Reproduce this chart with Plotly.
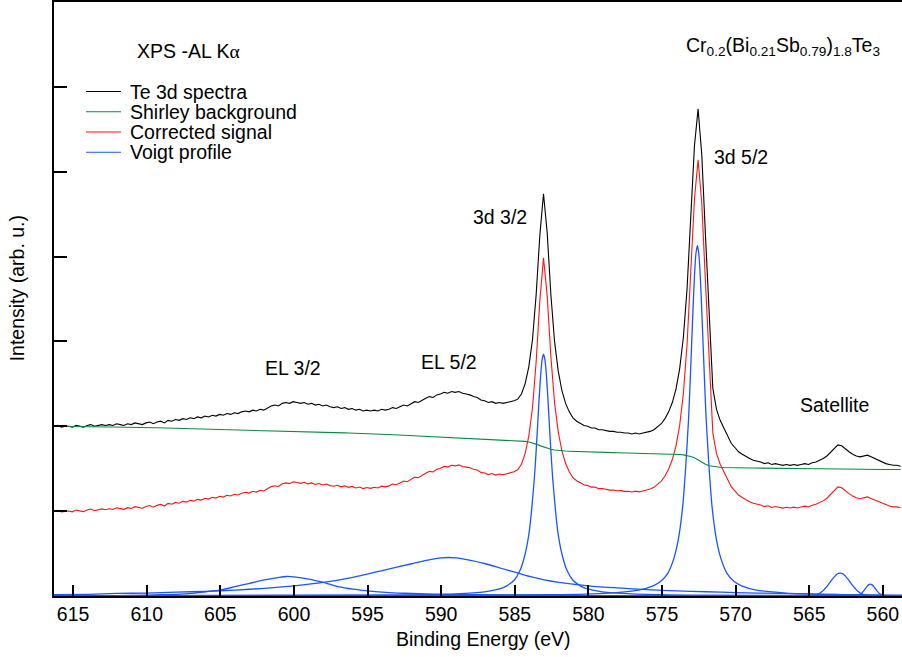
import plotly.graph_objects as go

# ---------------------------------------------------------------------------
# Te 3d core-level region, Al K-alpha excitation
# ---------------------------------------------------------------------------
E_START, E_STEP, N_PTS = 616.3, 0.25, 231
energy = [round(E_START - E_STEP * k, 2) for k in range(N_PTS)]

# measured Te 3d spectrum (arb. u.)
te3d = [
    2.00, 2.01, 1.99, 2.00, 2.00, 1.99, 2.01, 2.00, 1.99, 2.01,
    2.02, 2.00, 2.01, 2.02, 2.01, 2.02, 2.01, 2.03, 2.02, 2.01,
    2.03, 2.02, 2.04, 2.03, 2.02, 2.04, 2.05, 2.03, 2.05, 2.06,
    2.04, 2.07, 2.06, 2.08, 2.07, 2.09, 2.08, 2.10, 2.09, 2.11,
    2.10, 2.12, 2.11, 2.13, 2.12, 2.14, 2.13, 2.15, 2.14, 2.16,
    2.15, 2.17, 2.18, 2.17, 2.19, 2.18, 2.20, 2.19, 2.22, 2.24,
    2.25, 2.24, 2.27, 2.28, 2.27, 2.29, 2.28, 2.27, 2.28, 2.26,
    2.27, 2.25, 2.26, 2.24, 2.25, 2.23, 2.22, 2.23, 2.21, 2.22,
    2.20, 2.21, 2.19, 2.20, 2.18, 2.19, 2.18, 2.19, 2.18, 2.20,
    2.19, 2.20, 2.22, 2.21, 2.23, 2.25, 2.24, 2.27, 2.29, 2.28,
    2.31, 2.33, 2.35, 2.34, 2.37, 2.38, 2.40, 2.39, 2.41, 2.40,
    2.41, 2.39, 2.38, 2.37, 2.35, 2.34, 2.31, 2.30, 2.28, 2.29,
    2.27, 2.28, 2.27, 2.28, 2.29, 2.30, 2.32, 2.38, 2.50, 2.70,
    3.02, 3.55, 4.25, 4.74, 4.28, 3.55, 3.00, 2.65, 2.42, 2.27,
    2.17, 2.10, 2.06, 2.03, 2.01, 2.00, 1.98, 1.98, 1.96, 1.96,
    1.95, 1.94, 1.94, 1.93, 1.93, 1.92, 1.92, 1.91, 1.92, 1.91,
    1.92, 1.93, 1.94, 1.96, 1.99, 2.03, 2.09, 2.17, 2.28, 2.44,
    2.68, 3.05, 3.62, 4.40, 5.30, 5.74, 5.20, 4.25, 3.30, 2.45,
    2.20, 2.07, 1.98, 1.88, 1.80, 1.75, 1.70, 1.67, 1.64, 1.62,
    1.60, 1.59, 1.58, 1.56, 1.57, 1.55, 1.56, 1.55, 1.54, 1.55,
    1.54, 1.55, 1.54, 1.55, 1.56, 1.55, 1.57, 1.58, 1.60, 1.62,
    1.65, 1.69, 1.74, 1.78, 1.77, 1.73, 1.70, 1.67, 1.65, 1.64,
    1.65, 1.66, 1.64, 1.62, 1.60, 1.58, 1.56, 1.55, 1.54, 1.54,
    1.53,
]

# Shirley-type background on the same grid
shirley = [
    2.000, 2.000, 1.999, 1.999, 1.998, 1.998, 1.997, 1.997, 1.996, 1.996,
    1.995, 1.995, 1.994, 1.993, 1.993, 1.992, 1.991, 1.991, 1.990, 1.989,
    1.989, 1.988, 1.987, 1.986, 1.986, 1.985, 1.984, 1.983, 1.982, 1.981,
    1.980, 1.979, 1.978, 1.977, 1.976, 1.975, 1.974, 1.973, 1.972, 1.971,
    1.970, 1.969, 1.968, 1.967, 1.966, 1.965, 1.964, 1.963, 1.962, 1.961,
    1.960, 1.959, 1.958, 1.957, 1.956, 1.955, 1.954, 1.953, 1.952, 1.951,
    1.950, 1.949, 1.948, 1.947, 1.946, 1.945, 1.943, 1.942, 1.940, 1.939,
    1.937, 1.935, 1.934, 1.932, 1.930, 1.929, 1.927, 1.925, 1.924, 1.922,
    1.920, 1.919, 1.917, 1.915, 1.914, 1.912, 1.911, 1.909, 1.907, 1.906,
    1.904, 1.902, 1.900, 1.899, 1.897, 1.895, 1.893, 1.891, 1.889, 1.887,
    1.885, 1.883, 1.881, 1.879, 1.877, 1.875, 1.873, 1.871, 1.869, 1.867,
    1.865, 1.863, 1.861, 1.859, 1.857, 1.855, 1.853, 1.851, 1.849, 1.847,
    1.845, 1.843, 1.841, 1.839, 1.837, 1.835, 1.832, 1.828, 1.822, 1.815,
    1.805, 1.790, 1.772, 1.755, 1.740, 1.729, 1.721, 1.715, 1.711, 1.708,
    1.706, 1.704, 1.702, 1.701, 1.700, 1.699, 1.697, 1.696, 1.695, 1.694,
    1.693, 1.692, 1.690, 1.689, 1.688, 1.687, 1.686, 1.685, 1.684, 1.683,
    1.682, 1.681, 1.680, 1.679, 1.678, 1.677, 1.676, 1.674, 1.672, 1.670,
    1.667, 1.663, 1.656, 1.645, 1.628, 1.600, 1.572, 1.553, 1.535, 1.527,
    1.522, 1.518, 1.515, 1.513, 1.512, 1.511, 1.510, 1.510, 1.509, 1.509,
    1.508, 1.508, 1.507, 1.507, 1.506, 1.506, 1.505, 1.505, 1.504, 1.504,
    1.503, 1.503, 1.502, 1.502, 1.501, 1.501, 1.500, 1.500, 1.499, 1.499,
    1.498, 1.497, 1.496, 1.495, 1.495, 1.494, 1.494, 1.493, 1.493, 1.493,
    1.492, 1.492, 1.492, 1.491, 1.491, 1.491, 1.490, 1.490, 1.490, 1.490,
    1.490,
]

# background-subtracted signal, shifted up by one unit for display
CORRECTED_OFFSET = 1.0
corrected = [round(s - b + CORRECTED_OFFSET, 3) for s, b in zip(te3d, shirley)]

# Voigt components of the fit: (energies, intensities)
el32_e = [616.3, 612.0, 610.0, 608.0, 607.0, 606.0, 605.0, 604.0, 603.0, 602.0,
          601.0, 600.5, 600.0, 599.0, 598.0, 597.0, 596.0, 595.0, 594.0, 593.0,
          592.0, 590.0, 588.0, 585.0, 580.0, 570.0, 558.7]
el32_i = [0.0, 0.005, 0.01, 0.02, 0.03, 0.05, 0.07, 0.11, 0.15, 0.19,
          0.22, 0.23, 0.225, 0.20, 0.16, 0.11, 0.08, 0.06, 0.045, 0.035,
          0.03, 0.02, 0.015, 0.01, 0.005, 0.002, 0.0]

el52_e = [616.3, 614.0, 612.0, 610.0, 608.0, 606.0, 604.0, 602.0, 600.0, 598.0,
          596.0, 594.0, 592.0, 591.0, 590.0, 589.0, 588.0, 587.0, 586.0, 585.0,
          584.0, 583.0, 582.0, 580.0, 578.0, 576.0, 574.0, 572.0, 570.0, 567.0,
          564.0, 561.0, 558.7]
el52_i = [0.015, 0.02, 0.03, 0.035, 0.045, 0.055, 0.07, 0.09, 0.12, 0.16,
          0.22, 0.30, 0.38, 0.42, 0.45, 0.45, 0.42, 0.38, 0.33, 0.28,
          0.23, 0.19, 0.16, 0.12, 0.095, 0.075, 0.06, 0.05, 0.04, 0.03,
          0.02, 0.012, 0.01]

d32_e = [616.3, 593.05, 589.05, 587.05, 586.05, 585.55, 585.05, 584.65, 584.35, 584.05,
         583.85, 583.65, 583.55, 583.45, 583.35, 583.25, 583.15, 583.05, 582.95, 582.85,
         582.75, 582.65, 582.55, 582.45, 582.25, 582.05, 581.75, 581.45, 581.05, 580.55,
         580.05, 579.05, 577.05, 573.05, 558.7]
d32_i = [0.0, 0.01, 0.024, 0.048, 0.083, 0.12, 0.185, 0.30, 0.46, 0.72,
         1.03, 1.44, 1.71, 2.01, 2.32, 2.59, 2.78, 2.85, 2.78, 2.59,
         2.32, 2.01, 1.71, 1.44, 1.03, 0.72, 0.46, 0.30, 0.185, 0.12,
         0.083, 0.048, 0.024, 0.01, 0.0]

d52_e = [616.3, 582.6, 578.6, 576.6, 575.6, 575.1, 574.6, 574.2, 573.9, 573.6,
         573.4, 573.2, 573.1, 573.0, 572.9, 572.8, 572.7, 572.6, 572.5, 572.4,
         572.3, 572.2, 572.1, 572.0, 571.8, 571.6, 571.3, 571.0, 570.6, 570.1,
         569.6, 568.6, 566.6, 562.6, 558.7]
d52_i = [0.0, 0.015, 0.035, 0.07, 0.12, 0.17, 0.27, 0.44, 0.66, 1.05,
         1.50, 2.08, 2.48, 2.92, 3.36, 3.76, 4.03, 4.13, 4.03, 3.76,
         3.36, 2.92, 2.48, 2.08, 1.50, 1.05, 0.66, 0.44, 0.27, 0.17,
         0.12, 0.07, 0.035, 0.015, 0.0]

sat1_e = [616.3, 566.0, 564.9, 564.5, 564.1, 563.7, 563.4, 563.1, 562.9, 562.7,
          562.4, 562.1, 561.7, 561.3, 560.9, 560.0, 558.7]
sat1_i = [0.0, 0.0, 0.004, 0.017, 0.057, 0.135, 0.205, 0.259, 0.27, 0.259,
          0.205, 0.135, 0.057, 0.017, 0.004, 0.0, 0.0]

sat2_e = [616.3, 562.5, 562.0, 561.7, 561.5, 561.3, 561.1, 560.95, 560.85, 560.75,
          560.6, 560.4, 560.2, 560.0, 559.7, 558.7]
sat2_i = [0.0, 0.0, 0.0006, 0.007, 0.025, 0.061, 0.108, 0.134, 0.14, 0.134,
          0.108, 0.061, 0.025, 0.007, 0.0006, 0.0]

components = [(el32_e, el32_i), (el52_e, el52_i), (d32_e, d32_i),
              (d52_e, d52_i), (sat1_e, sat1_i), (sat2_e, sat2_i)]

x_ticks = [615, 610, 605, 600, 595, 590, 585, 580, 575, 570, 565, 560]

# peak labels: (text, energy, intensity)
peak_labels = [
    ("3d 3/2", 586.0, 4.47),
    ("3d 5/2", 569.64, 5.17),
    ("EL 3/2", 600.06, 2.685),
    ("EL 5/2", 589.46, 2.756),
    ("Satellite", 563.26, 2.25),
]

legend_entries = [
    ("Te 3d spectra", "#000000"),
    ("Shirley background", "#0a8a3e"),
    ("Corrected signal", "#ff1414"),
    ("Voigt profile", "#1a55ff"),
]

BLACK, GREEN, RED, BLUE = (c for _, c in legend_entries)
FONT = "Liberation Sans, Arial, sans-serif"
FS = 19.5

fig = go.Figure()

for ex, iy in components:
    fig.add_trace(go.Scatter(
        x=ex, y=iy, mode="lines", name="Voigt profile",
        line=dict(color=BLUE, width=1.3, shape="spline", smoothing=0.6),
        showlegend=False, hoverinfo="skip"))

fig.add_trace(go.Scatter(x=energy, y=corrected, mode="lines",
                         name="Corrected signal", showlegend=False,
                         line=dict(color=RED, width=1.1)))
fig.add_trace(go.Scatter(x=energy, y=te3d, mode="lines",
                         name="Te 3d spectra", showlegend=False,
                         line=dict(color=BLACK, width=1.1)))
fig.add_trace(go.Scatter(x=energy, y=shirley, mode="lines",
                         name="Shirley background", showlegend=False,
                         line=dict(color=GREEN, width=1.1)))

annotations = []
for text, ex, iy in peak_labels:
    annotations.append(dict(x=ex, y=iy, xref="x", yref="y", text=text,
                            showarrow=False, xanchor="center", yanchor="middle",
                            font=dict(size=FS, family=FONT, color="black")))

# legend drawn as line samples + labels
shapes = []
leg_x0, leg_x1, leg_tx = 0.0377, 0.0790, 0.0873
leg_rows = [0.8493, 0.8152, 0.7811, 0.7471]
for (label, color), yy in zip(legend_entries, leg_rows):
    shapes.append(dict(type="line", xref="paper", yref="paper",
                       x0=leg_x0, x1=leg_x1, y0=yy, y1=yy,
                       line=dict(color=color, width=1.1)))
    annotations.append(dict(x=leg_tx, y=yy, xref="paper", yref="paper",
                            text=label, showarrow=False, xanchor="left",
                            yanchor="middle",
                            font=dict(size=FS, family=FONT, color="black")))

annotations += [
    dict(x=0.1588, y=0.9175, xref="paper", yref="paper",
         text="XPS -AL K<span style='font-family:Liberation Serif'>\u03b1</span>",
         showarrow=False, xanchor="center", yanchor="middle",
         font=dict(size=FS, family=FONT, color="black")),
    dict(x=0.8597, y=0.925, xref="paper", yref="paper",
         text="Cr<sub>0.2</sub>(Bi<sub>0.21</sub>Sb<sub>0.79</sub>)<sub>1.8</sub>Te<sub>3</sub>",
         showarrow=False, xanchor="center", yanchor="middle",
         font=dict(size=FS, family=FONT, color="black")),
    dict(x=-0.0436, y=0.518, xref="paper", yref="paper",
         text="Intensity (arb. u.)", textangle=-90, showarrow=False,
         xanchor="center", yanchor="middle",
         font=dict(size=FS, family=FONT, color="black")),
    dict(x=0.5065, y=-0.0725, xref="paper", yref="paper",
         text="Binding Energy (eV)", showarrow=False,
         xanchor="center", yanchor="middle",
         font=dict(size=FS, family=FONT, color="black")),
]

fig.update_layout(
    width=902, height=657,
    margin=dict(l=54, r=0, t=2, b=61),
    paper_bgcolor="white", plot_bgcolor="white",
    font=dict(family=FONT, size=FS, color="black"),
    showlegend=False,
    annotations=annotations,
    shapes=shapes,
    xaxis=dict(range=[616.3, 558.7], tickvals=x_ticks,
               ticks="inside", ticklen=11, tickwidth=1.5, tickcolor="black",
               showline=True, linewidth=1.5, linecolor="black", mirror=True,
               showgrid=False, zeroline=False,
               tickfont=dict(size=FS, family=FONT, color="black")),
    yaxis=dict(range=[0, 7], tick0=0, dtick=1,
               ticks="inside", ticklen=13, tickwidth=1.5, tickcolor="black",
               showline=True, linewidth=1.5, linecolor="black",
               showticklabels=False, showgrid=False, zeroline=False),
)

fig.write_html("out.html", config={"displayModeBar": False})
